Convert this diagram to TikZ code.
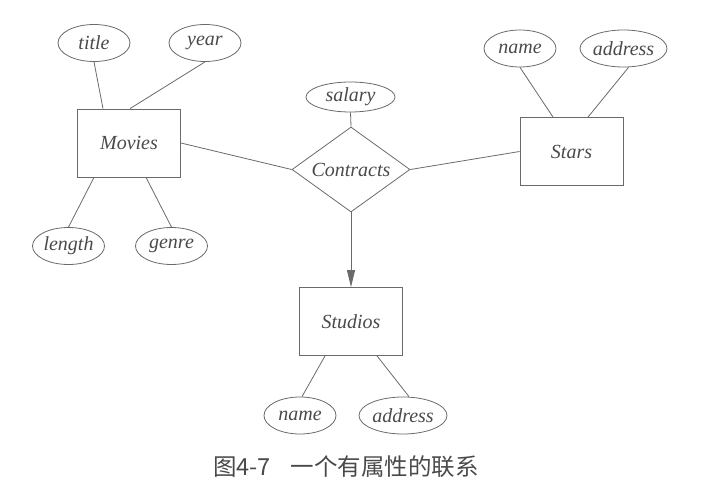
\documentclass[tikz,border=0pt]{standalone}
\usepackage{fontspec}
\setmainfont{Liberation Serif}
\newfontfamily\cjk{Noto Sans CJK SC}
\usetikzlibrary{shapes.geometric,arrows.meta}
\definecolor{lineg}{HTML}{6A6A6A}
\definecolor{textg}{HTML}{4A4A4A}
\tikzset{
  ent/.style={draw=lineg, line width=0.8pt, rectangle, minimum width=103pt, minimum height=68pt, inner sep=0pt, text=textg, font=\fontsize{20}{22}\selectfont\itshape},
  attr/.style={draw=lineg, line width=0.8pt, ellipse, minimum width=72pt, minimum height=37pt, inner sep=0pt, text=textg, font=\fontsize{20}{22}\selectfont\itshape},
  rel/.style={draw=lineg, line width=0.8pt, diamond, aspect=1.39, minimum width=118pt, minimum height=85pt, inner sep=0pt, text=textg, font=\fontsize{20}{22}\selectfont\itshape},
  conn/.style={draw=lineg, line width=0.8pt},
  captext/.style={text=textg, font=\cjk\fontsize{23.5}{25}\selectfont, inner sep=0pt}
}
\begin{document}
\begin{tikzpicture}[x=1pt,y=-1pt]
\useasboundingbox (0,0) rectangle (726,489);
% entities
\node[ent] (movies) at (129,143) {Movies};
\node[ent] (stars) at (571.5,151.5) {Stars};
\node[ent] (studios) at (351,321.5) {Studios};
% relationship
\node[rel] (contracts) at (351,169.5) {Contracts};
% attributes
\node[attr] (title) at (94,43) {title};
\node[attr] (year) at (205,43) {year};
\node[attr] (length) at (68.5,246) {length};
\node[attr] (genre) at (171.5,246) {genre};
\node[attr, minimum width=89pt, minimum height=30pt] (salary) at (350.5,97) {salary};
\node[attr] (sname) at (520,48.5) {name};
\node[attr, minimum width=80pt] (saddr) at (623.5,48.5) {address};
\node[attr] (dname) at (300,415.5) {name};
\node[attr, minimum width=88pt] (daddr) at (403,415.5) {address};
% connectors
\draw[conn] (title.south) -- ([xshift=-26pt]movies.north);
\draw[conn] (year.south) -- ([xshift=1pt]movies.north);
\draw[conn] ([xshift=-35pt]movies.south) -- (length.north);
\draw[conn] ([xshift=17pt]movies.south) -- (genre.north);
\draw[conn] (movies.east) -- (contracts.west);
\draw[conn] (contracts.east) -- (stars.west);
\draw[conn] (salary.south) -- (contracts.north);
\draw[conn, -{Triangle[length=17pt,width=8pt]}] (contracts.south) -- (studios.north);
\draw[conn] (sname.south) -- ([xshift=-18.5pt]stars.north);
\draw[conn] ([xshift=5pt]saddr.south) -- ([xshift=16.5pt]stars.north);
\draw[conn] ([xshift=-26pt]studios.south) -- ([xshift=2pt]dname.north);
\draw[conn] ([xshift=26pt]studios.south) -- ([xshift=6pt]daddr.north);
% caption
\node[captext, anchor=west] (caption) at (213,467) {图4-7\hspace{20pt}一个有属性的联系};
\end{tikzpicture}
\end{document}
